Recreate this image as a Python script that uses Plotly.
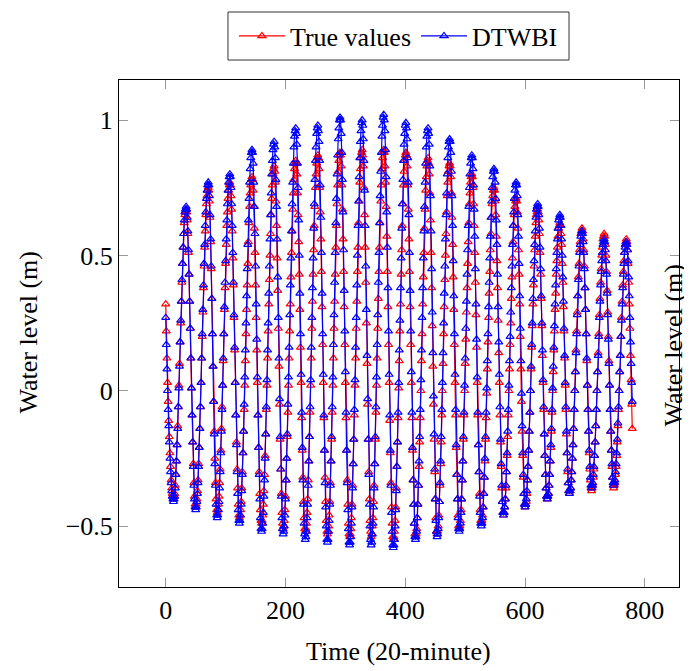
import plotly.graph_objects as go

# Water level series (m), one sample every 20 minutes
true_values = [
    0.32, 0.22, 0.12, 0.03, -0.04, -0.11, -0.17, -0.23, -0.28, -0.33, -0.36, -0.38, -0.39, -0.40,
    -0.39, -0.38, -0.35, -0.31, -0.26, -0.20, -0.13, -0.06, 0.02, 0.10, 0.18, 0.25, 0.33, 0.40, 0.47, 0.53, 0.58, 0.62, 0.65, 0.66, 0.67,
    0.66, 0.63, 0.58, 0.51, 0.43, 0.33, 0.23, 0.12, 0.01, -0.09, -0.19, -0.27, -0.34, -0.39, -0.42, -0.43,
    -0.42, -0.40, -0.37, -0.33, -0.27, -0.21, -0.14, -0.06, 0.03, 0.12, 0.20, 0.29, 0.38, 0.46, 0.53, 0.59, 0.65, 0.69, 0.72, 0.74, 0.75,
    0.74, 0.70, 0.64, 0.55, 0.45, 0.34, 0.21, 0.09, -0.04, -0.15, -0.25, -0.34, -0.40, -0.44, -0.45,
    -0.44, -0.42, -0.39, -0.34, -0.29, -0.22, -0.14, -0.06, 0.02, 0.11, 0.21, 0.30, 0.38, 0.47, 0.54, 0.61, 0.66, 0.71, 0.74, 0.76, 0.77,
    0.76, 0.72, 0.67, 0.59, 0.49, 0.39, 0.27, 0.15, 0.03, -0.09, -0.19, -0.29, -0.36, -0.42, -0.46, -0.47,
    -0.46, -0.44, -0.41, -0.36, -0.30, -0.23, -0.15, -0.07, 0.02, 0.11, 0.21, 0.30, 0.39, 0.47, 0.55, 0.62, 0.68, 0.73, 0.76, 0.78, 0.79,
    0.78, 0.74, 0.68, 0.60, 0.51, 0.39, 0.27, 0.15, 0.03, -0.09, -0.21, -0.30, -0.38, -0.44, -0.48, -0.49,
    -0.48, -0.46, -0.42, -0.37, -0.31, -0.24, -0.16, -0.07, 0.02, 0.12, 0.22, 0.32, 0.41, 0.50, 0.58, 0.65, 0.71, 0.76, 0.80, 0.82, 0.83,
    0.81, 0.77, 0.70, 0.61, 0.49, 0.37, 0.23, 0.09, -0.05, -0.18, -0.29, -0.38, -0.45, -0.49, -0.51,
    -0.50, -0.48, -0.44, -0.39, -0.33, -0.25, -0.17, -0.08, 0.02, 0.12, 0.22, 0.32, 0.42, 0.51, 0.59, 0.67, 0.73, 0.78, 0.82, 0.84, 0.85,
    0.84, 0.80, 0.73, 0.65, 0.55, 0.43, 0.30, 0.16, 0.03, -0.10, -0.22, -0.32, -0.41, -0.47, -0.51, -0.52,
    -0.51, -0.49, -0.45, -0.40, -0.33, -0.26, -0.17, -0.08, 0.02, 0.12, 0.23, 0.33, 0.43, 0.52, 0.61, 0.68, 0.75, 0.80, 0.84, 0.86, 0.87,
    0.86, 0.82, 0.75, 0.66, 0.56, 0.44, 0.31, 0.17, 0.03, -0.10, -0.22, -0.32, -0.41, -0.48, -0.52, -0.53,
    -0.52, -0.50, -0.46, -0.41, -0.34, -0.26, -0.18, -0.08, 0.02, 0.12, 0.23, 0.33, 0.43, 0.53, 0.61, 0.69, 0.76, 0.81, 0.85, 0.87, 0.88,
    0.87, 0.83, 0.76, 0.67, 0.56, 0.44, 0.31, 0.17, 0.03, -0.10, -0.22, -0.33, -0.42, -0.49, -0.53, -0.54,
    -0.53, -0.51, -0.47, -0.42, -0.35, -0.27, -0.18, -0.09, 0.02, 0.12, 0.23, 0.33, 0.44, 0.53, 0.62, 0.70, 0.77, 0.82, 0.86, 0.88, 0.89,
    0.87, 0.83, 0.75, 0.65, 0.53, 0.40, 0.25, 0.10, -0.05, -0.18, -0.30, -0.40, -0.48, -0.52, -0.54,
    -0.53, -0.50, -0.47, -0.41, -0.35, -0.27, -0.18, -0.08, 0.02, 0.12, 0.23, 0.34, 0.44, 0.53, 0.62, 0.70, 0.76, 0.82, 0.86, 0.88, 0.89,
    0.88, 0.83, 0.77, 0.68, 0.57, 0.44, 0.31, 0.17, 0.03, -0.11, -0.23, -0.34, -0.43, -0.49, -0.54, -0.55,
    -0.54, -0.52, -0.48, -0.43, -0.36, -0.28, -0.19, -0.10, 0.01, 0.11, 0.22, 0.32, 0.43, 0.52, 0.61, 0.69, 0.76, 0.81, 0.85, 0.87, 0.88,
    0.87, 0.83, 0.76, 0.67, 0.56, 0.44, 0.31, 0.17, 0.03, -0.10, -0.22, -0.33, -0.42, -0.49, -0.53, -0.54,
    -0.53, -0.51, -0.47, -0.42, -0.35, -0.28, -0.19, -0.10, 0.00, 0.11, 0.21, 0.32, 0.42, 0.51, 0.60, 0.67, 0.74, 0.79, 0.83, 0.85, 0.86,
    0.84, 0.80, 0.73, 0.63, 0.51, 0.38, 0.24, 0.09, -0.05, -0.18, -0.30, -0.40, -0.47, -0.52, -0.53,
    -0.52, -0.50, -0.46, -0.41, -0.35, -0.27, -0.19, -0.09, 0.00, 0.10, 0.21, 0.31, 0.41, 0.50, 0.58, 0.66, 0.72, 0.77, 0.81, 0.83, 0.84,
    0.83, 0.79, 0.73, 0.64, 0.54, 0.42, 0.30, 0.17, 0.03, -0.09, -0.21, -0.31, -0.40, -0.46, -0.50, -0.51,
    -0.50, -0.48, -0.44, -0.40, -0.33, -0.26, -0.18, -0.09, 0.00, 0.10, 0.19, 0.29, 0.38, 0.47, 0.55, 0.62, 0.69, 0.73, 0.77, 0.79, 0.80,
    0.79, 0.75, 0.69, 0.61, 0.51, 0.40, 0.28, 0.16, 0.03, -0.09, -0.20, -0.30, -0.38, -0.44, -0.48, -0.49,
    -0.48, -0.46, -0.43, -0.38, -0.32, -0.26, -0.18, -0.10, -0.01, 0.08, 0.18, 0.27, 0.36, 0.44, 0.52, 0.58, 0.64, 0.69, 0.72, 0.74, 0.75,
    0.74, 0.70, 0.65, 0.57, 0.48, 0.38, 0.26, 0.14, 0.03, -0.09, -0.19, -0.28, -0.36, -0.41, -0.45, -0.46,
    -0.45, -0.43, -0.40, -0.36, -0.30, -0.24, -0.17, -0.09, 0.00, 0.08, 0.17, 0.25, 0.34, 0.42, 0.49, 0.55, 0.61, 0.65, 0.68, 0.70, 0.71,
    0.70, 0.66, 0.60, 0.52, 0.43, 0.32, 0.20, 0.08, -0.04, -0.15, -0.24, -0.32, -0.38, -0.42, -0.43,
    -0.42, -0.41, -0.38, -0.33, -0.28, -0.22, -0.15, -0.08, 0.00, 0.08, 0.16, 0.24, 0.32, 0.39, 0.46, 0.52, 0.57, 0.62, 0.65, 0.66, 0.67,
    0.66, 0.63, 0.58, 0.51, 0.43, 0.34, 0.24, 0.13, 0.03, -0.07, -0.16, -0.24, -0.31, -0.36, -0.39, -0.40,
    -0.39, -0.38, -0.35, -0.31, -0.26, -0.21, -0.15, -0.08, 0.00, 0.07, 0.15, 0.22, 0.30, 0.36, 0.43, 0.48, 0.53, 0.57, 0.60, 0.61, 0.62,
    0.61, 0.58, 0.54, 0.47, 0.40, 0.31, 0.22, 0.12, 0.02, -0.07, -0.16, -0.23, -0.30, -0.34, -0.37, -0.38,
    -0.37, -0.36, -0.33, -0.30, -0.25, -0.20, -0.14, -0.07, 0.00, 0.07, 0.15, 0.22, 0.29, 0.35, 0.42, 0.47, 0.52, 0.55, 0.58, 0.59, 0.60,
    0.59, 0.56, 0.52, 0.46, 0.38, 0.30, 0.21, 0.11, 0.02, -0.07, -0.15, -0.23, -0.29, -0.33, -0.36, -0.37,
    -0.36, -0.35, -0.32, -0.29, -0.24, -0.19, -0.13, -0.07, 0.00, 0.07, 0.14, 0.21, 0.28, 0.34, 0.40, 0.45, 0.50, 0.53, 0.56, 0.57, 0.58,
    0.57, 0.54, 0.50, 0.44, 0.37, 0.29, 0.20, 0.11, 0.02, -0.07, -0.15, -0.22, -0.28, -0.32, -0.35, -0.36,
    -0.35, -0.34, -0.31, -0.28, -0.24, -0.19, -0.13, -0.07, 0.00, 0.07, 0.13, 0.20, 0.27, 0.33, 0.39, 0.44, 0.48, 0.51, 0.54, 0.55, 0.56,
    0.55, 0.52, 0.47, 0.40, 0.32, 0.23, 0.13, 0.04, -0.05, -0.14,
]

dtwbi_values = [
    0.27, 0.17, 0.08, 0.00, -0.07, -0.13, -0.19, -0.25, -0.30, -0.34, -0.37, -0.39, -0.40, -0.41,
    -0.40, -0.39, -0.36, -0.31, -0.26, -0.20, -0.14, -0.06, 0.01, 0.09, 0.18, 0.26, 0.33, 0.41, 0.47, 0.53, 0.58, 0.63, 0.66, 0.67, 0.68,
    0.67, 0.64, 0.59, 0.52, 0.43, 0.33, 0.23, 0.12, 0.01, -0.09, -0.19, -0.28, -0.35, -0.40, -0.43, -0.44,
    -0.43, -0.41, -0.38, -0.34, -0.28, -0.21, -0.14, -0.06, 0.03, 0.12, 0.21, 0.30, 0.39, 0.47, 0.54, 0.61, 0.66, 0.71, 0.74, 0.76, 0.77,
    0.76, 0.72, 0.65, 0.56, 0.46, 0.34, 0.21, 0.09, -0.04, -0.16, -0.27, -0.35, -0.42, -0.46, -0.47,
    -0.46, -0.44, -0.41, -0.36, -0.30, -0.23, -0.15, -0.07, 0.02, 0.12, 0.21, 0.31, 0.40, 0.48, 0.56, 0.63, 0.69, 0.74, 0.77, 0.79, 0.80,
    0.79, 0.75, 0.69, 0.61, 0.51, 0.40, 0.28, 0.16, 0.03, -0.09, -0.20, -0.30, -0.38, -0.44, -0.48, -0.49,
    -0.48, -0.46, -0.42, -0.37, -0.31, -0.23, -0.15, -0.05, 0.05, 0.15, 0.25, 0.35, 0.45, 0.54, 0.63, 0.71, 0.77, 0.82, 0.86, 0.88, 0.89,
    0.88, 0.84, 0.77, 0.68, 0.58, 0.46, 0.32, 0.19, 0.05, -0.09, -0.21, -0.31, -0.40, -0.47, -0.51, -0.52,
    -0.51, -0.49, -0.45, -0.39, -0.33, -0.25, -0.16, -0.06, 0.04, 0.15, 0.25, 0.36, 0.46, 0.56, 0.65, 0.73, 0.80, 0.85, 0.89, 0.91, 0.92,
    0.90, 0.86, 0.78, 0.68, 0.56, 0.42, 0.27, 0.12, -0.03, -0.17, -0.29, -0.39, -0.47, -0.51, -0.53,
    -0.52, -0.50, -0.46, -0.40, -0.33, -0.25, -0.16, -0.05, 0.05, 0.16, 0.28, 0.39, 0.49, 0.59, 0.69, 0.77, 0.84, 0.90, 0.94, 0.96, 0.97,
    0.95, 0.91, 0.84, 0.75, 0.63, 0.50, 0.36, 0.21, 0.06, -0.08, -0.21, -0.33, -0.42, -0.49, -0.53, -0.55,
    -0.54, -0.52, -0.47, -0.42, -0.35, -0.26, -0.17, -0.06, 0.04, 0.16, 0.27, 0.38, 0.49, 0.60, 0.69, 0.78, 0.85, 0.90, 0.95, 0.97, 0.98,
    0.96, 0.92, 0.85, 0.76, 0.64, 0.51, 0.36, 0.21, 0.06, -0.09, -0.22, -0.34, -0.43, -0.50, -0.55, -0.56,
    -0.55, -0.52, -0.48, -0.42, -0.35, -0.26, -0.17, -0.06, 0.05, 0.17, 0.28, 0.40, 0.51, 0.62, 0.71, 0.80, 0.87, 0.93, 0.97, 1.00, 1.01,
    1.00, 0.95, 0.88, 0.78, 0.66, 0.52, 0.37, 0.22, 0.07, -0.08, -0.22, -0.34, -0.44, -0.51, -0.56, -0.57,
    -0.56, -0.54, -0.49, -0.43, -0.36, -0.27, -0.18, -0.07, 0.04, 0.16, 0.27, 0.39, 0.50, 0.61, 0.70, 0.79, 0.86, 0.92, 0.96, 0.99, 1.00,
    0.98, 0.93, 0.85, 0.74, 0.61, 0.46, 0.30, 0.13, -0.03, -0.18, -0.31, -0.42, -0.50, -0.55, -0.57,
    -0.56, -0.53, -0.49, -0.43, -0.36, -0.27, -0.17, -0.06, 0.05, 0.17, 0.28, 0.40, 0.51, 0.62, 0.72, 0.81, 0.88, 0.94, 0.98, 1.01, 1.02,
    1.00, 0.96, 0.89, 0.79, 0.66, 0.53, 0.38, 0.22, 0.06, -0.09, -0.22, -0.35, -0.45, -0.52, -0.57, -0.58,
    -0.57, -0.55, -0.50, -0.44, -0.37, -0.28, -0.19, -0.08, 0.03, 0.15, 0.26, 0.38, 0.49, 0.60, 0.69, 0.78, 0.85, 0.91, 0.95, 0.98, 0.99,
    0.97, 0.93, 0.86, 0.77, 0.65, 0.51, 0.37, 0.22, 0.07, -0.08, -0.21, -0.33, -0.42, -0.49, -0.54, -0.55,
    -0.54, -0.52, -0.47, -0.42, -0.35, -0.26, -0.17, -0.07, 0.04, 0.15, 0.27, 0.38, 0.49, 0.59, 0.68, 0.77, 0.84, 0.90, 0.94, 0.96, 0.97,
    0.95, 0.91, 0.83, 0.72, 0.59, 0.45, 0.29, 0.14, -0.02, -0.16, -0.29, -0.40, -0.48, -0.52, -0.54,
    -0.53, -0.51, -0.47, -0.41, -0.34, -0.26, -0.17, -0.07, 0.03, 0.14, 0.25, 0.36, 0.46, 0.56, 0.65, 0.73, 0.80, 0.86, 0.90, 0.92, 0.93,
    0.92, 0.88, 0.81, 0.72, 0.61, 0.48, 0.35, 0.21, 0.06, -0.07, -0.20, -0.31, -0.40, -0.47, -0.51, -0.52,
    -0.51, -0.49, -0.45, -0.40, -0.33, -0.26, -0.17, -0.08, 0.02, 0.12, 0.23, 0.33, 0.43, 0.52, 0.61, 0.68, 0.75, 0.80, 0.84, 0.86, 0.87,
    0.86, 0.82, 0.76, 0.67, 0.57, 0.45, 0.32, 0.19, 0.05, -0.08, -0.20, -0.30, -0.39, -0.45, -0.49, -0.50,
    -0.49, -0.47, -0.43, -0.38, -0.32, -0.25, -0.17, -0.08, 0.01, 0.11, 0.21, 0.31, 0.40, 0.49, 0.57, 0.64, 0.70, 0.75, 0.79, 0.81, 0.82,
    0.81, 0.77, 0.71, 0.63, 0.54, 0.43, 0.31, 0.18, 0.06, -0.06, -0.18, -0.27, -0.35, -0.41, -0.45, -0.46,
    -0.45, -0.43, -0.40, -0.35, -0.30, -0.23, -0.15, -0.07, 0.02, 0.11, 0.20, 0.29, 0.38, 0.46, 0.54, 0.61, 0.66, 0.71, 0.74, 0.76, 0.77,
    0.76, 0.72, 0.65, 0.57, 0.47, 0.35, 0.23, 0.11, -0.01, -0.13, -0.23, -0.31, -0.38, -0.42, -0.43,
    -0.42, -0.40, -0.37, -0.33, -0.28, -0.22, -0.15, -0.08, 0.00, 0.09, 0.17, 0.25, 0.34, 0.41, 0.48, 0.54, 0.59, 0.64, 0.67, 0.68, 0.69,
    0.68, 0.65, 0.60, 0.53, 0.45, 0.35, 0.25, 0.15, 0.04, -0.06, -0.16, -0.24, -0.31, -0.36, -0.39, -0.40,
    -0.39, -0.38, -0.35, -0.31, -0.26, -0.20, -0.14, -0.07, 0.01, 0.09, 0.16, 0.24, 0.32, 0.39, 0.45, 0.51, 0.56, 0.60, 0.63, 0.64, 0.65,
    0.64, 0.61, 0.56, 0.50, 0.42, 0.33, 0.23, 0.13, 0.03, -0.06, -0.15, -0.23, -0.29, -0.34, -0.37, -0.38,
    -0.37, -0.36, -0.33, -0.30, -0.25, -0.20, -0.14, -0.07, 0.00, 0.07, 0.14, 0.21, 0.28, 0.35, 0.41, 0.46, 0.51, 0.54, 0.57, 0.58, 0.59,
    0.58, 0.55, 0.51, 0.45, 0.38, 0.30, 0.21, 0.12, 0.02, -0.07, -0.15, -0.22, -0.28, -0.32, -0.35, -0.36,
    -0.35, -0.34, -0.31, -0.28, -0.24, -0.19, -0.13, -0.07, 0.00, 0.07, 0.13, 0.20, 0.27, 0.33, 0.39, 0.44, 0.48, 0.51, 0.54, 0.55, 0.56,
    0.55, 0.52, 0.48, 0.43, 0.36, 0.28, 0.19, 0.10, 0.02, -0.07, -0.15, -0.22, -0.27, -0.32, -0.34, -0.35,
    -0.34, -0.33, -0.30, -0.27, -0.23, -0.18, -0.12, -0.06, 0.00, 0.07, 0.13, 0.20, 0.26, 0.32, 0.38, 0.43, 0.47, 0.51, 0.53, 0.54, 0.55,
    0.54, 0.52, 0.48, 0.42, 0.35, 0.27, 0.18, 0.10, 0.03, -0.04,
]

if len(true_values) != len(dtwbi_values):
    raise ValueError(f"length mismatch: {len(true_values)} vs {len(dtwbi_values)}")

time_steps = list(range(len(true_values)))

x_ticks = [0, 200, 400, 600, 800]
x_tick_labels = ["0", "200", "400", "600", "800"]
y_ticks = [-0.5, 0, 0.5, 1]
y_tick_labels = ["\u22120.5", "0", "0.5", "1"]

FONT = "Liberation Serif, Times New Roman, serif"

fig = go.Figure()
fig.add_trace(go.Scatter(
    x=time_steps, y=true_values, mode="lines+markers", name="True values",
    line=dict(color="#ff0000", width=1.2),
    marker=dict(symbol="triangle-up-open", size=7, color="#ff0000", line=dict(width=1.2, color="#ff0000")),
))
fig.add_trace(go.Scatter(
    x=time_steps, y=dtwbi_values, mode="lines+markers", name="DTWBI",
    line=dict(color="#0000ff", width=1.2),
    marker=dict(symbol="triangle-up-open", size=7, color="#0000ff", line=dict(width=1.2, color="#0000ff")),
))

axis_common = dict(
    showline=True, linecolor="#000000", linewidth=1, mirror="allticks",
    ticks="inside", ticklen=9, tickcolor="#999999", tickwidth=1,
    showgrid=False, zeroline=False,
    tickfont=dict(family=FONT, size=26, color="#000000"),
)

# The page body has an 8 px margin, so the figure is 8 px smaller than the window
fig.update_layout(
    width=684, height=663,
    margin=dict(l=111, r=13, t=72, b=84, autoexpand=False),
    paper_bgcolor="white", plot_bgcolor="white",
    font=dict(family=FONT, size=26, color="#000000"),
    showlegend=True,
    legend=dict(
        orientation="h", x=0.499, xanchor="center", y=1.0868, yanchor="middle",
        bgcolor="rgba(0,0,0,0)", borderwidth=0,
        font=dict(family=FONT, size=26, color="#000000"),
        itemwidth=46, tracegroupgap=0,
    ),
    shapes=[
        dict(type="rect", xref="paper", yref="paper", x0=0.1946, x1=0.8036, y0=1.0394, y1=1.1341,
             line=dict(color="#333333", width=1), fillcolor="rgba(0,0,0,0)", layer="below"),
    ],
    xaxis=dict(range=[-78, 857], tickvals=x_ticks, ticktext=x_tick_labels, **axis_common),
    yaxis=dict(range=[-0.725, 1.148], tickvals=y_ticks, ticktext=y_tick_labels, **axis_common),
    annotations=[
        dict(text="Time (20-minute)", xref="paper", yref="paper", x=0.499, y=-0.128,
             xanchor="center", yanchor="middle", showarrow=False,
             font=dict(family=FONT, size=26, color="#000000")),
        dict(text="Water level (m)", xref="paper", yref="paper", x=-0.1625, y=0.502,
             xanchor="center", yanchor="middle", textangle=-90, showarrow=False,
             font=dict(family=FONT, size=26, color="#000000")),
        dict(text="Water level (m)", xref="paper", yref="paper", x=0.99, y=0.477,
             xanchor="center", yanchor="middle", textangle=-90, showarrow=False,
             font=dict(family=FONT, size=26, color="#000000")),
    ],
)

fig.write_html("out.html")
